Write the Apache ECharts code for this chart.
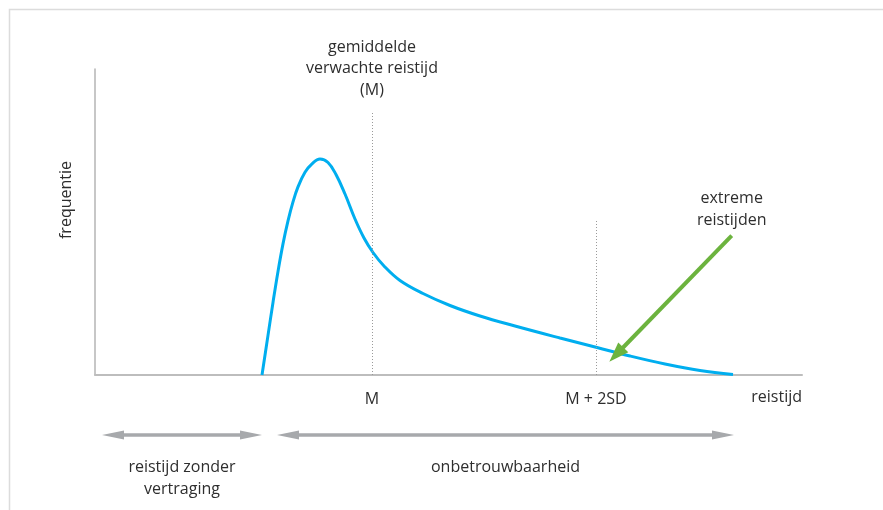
<!DOCTYPE html>
<html><head><meta charset="utf-8">
<script src="https://cdn.jsdelivr.net/npm/echarts@6/dist/echarts.min.js"></script>
<style>html,body{margin:0;padding:0;background:#fff}#c{width:883px;height:510px}</style>
</head><body><div id="c"></div>
<script>
// Curve: reistijd (x) vs frequentie (y), arbitrary units
const curveX = [167,173,178,183,188,193,198,203,210,217,225,233,241,250,260,269,278,289,305,328,355,385,420,465,502,535,570,605,638];
const curveY = [0,39.6,72.6,103.6,131.1,154.1,173.1,188.1,202.8,211.2,216,212.5,200.5,181,156,137,122.5,109,94.5,81.5,69.5,59,49,37,27.5,19,11,4.5,0.5];
// Reference markers
const markX = [277, 501];           // M, M + 2SD
const markTop = [262, 155];
const tickLabels = ['M', 'M + 2SD'];
const mTitle = 'gemiddelde\nverwachte reistijd\n(M)';
// Range arrows below the axis
const rangeStart = [18, 193];
const rangeEnd = [156, 628];
const rangeLabels = ['reistijd zonder\nvertraging', 'onbetrouwbaarheid'];
// Green callout arrow
const calloutTail = [636.7, 139.3];
const calloutHead = [521.3, 20.5];
const calloutText = 'extreme\nreistijden';

const FONT = 'Open Sans';
const TXT = '#2e2e2e';
const FS = 16;
const chart = echarts.init(document.getElementById('c'));

const rangeSeries = rangeStart.map((s, i) => ({
  type: 'line', data: [], xAxisIndex: 1, yAxisIndex: 1, clip: false, silent: true,
  markLine: {
    silent: true, animation: false,
    symbol: ['triangle', 'triangle'], symbolSize: [9, 22],
    lineStyle: { color: '#a7a9ac', width: 3.5, type: 'solid' },
    label: { show: true, position: 'insideMiddleBottom', distance: 21, formatter: rangeLabels[i],
      color: TXT, fontFamily: FONT, fontSize: FS, lineHeight: 22, align: 'center' },
    data: [[{ coord: [s, 0] }, { coord: [rangeEnd[i], 0] }]]
  }
}));

const markSeries = markX.map((x, i) => ({
  type: 'line', data: [], clip: false, silent: true,
  markLine: {
    silent: true, animation: false, symbol: ['none', 'none'],
    lineStyle: { color: '#9a9a9a', width: 1, type: [1, 2] },
    label: { show: i === 0, position: 'end', distance: 12, formatter: mTitle,
      color: TXT, fontFamily: FONT, fontSize: FS, lineHeight: 21.5 },
    data: [[{ coord: [x, 0] }, { coord: [x, markTop[i]] }]]
  }
}));

chart.setOption({
  animation: false,
  textStyle: { fontFamily: FONT },
  grid: [
    { left: 95, top: 69, right: 81, bottom: 135 },
    { left: 95, top: 425, right: 81, height: 20 }
  ],
  xAxis: [{
    type: 'value', min: 0, max: 707,
    axisLine: { show: true, lineStyle: { color: '#bdbdbd', width: 2 } },
    axisTick: { show: false }, splitLine: { show: false },
    axisLabel: { customValues: markX, margin: 16, color: TXT, fontSize: FS, fontFamily: FONT,
      formatter: v => tickLabels[markX.indexOf(v)] },
    name: 'reistijd', nameLocation: 'end', nameGap: 0,
    nameTextStyle: { color: TXT, fontSize: FS, fontFamily: FONT, align: 'right', verticalAlign: 'top', padding: [14, 0, 0, 0] }
  }, {
    gridIndex: 1, type: 'value', min: 0, max: 707, show: false
  }],
  yAxis: [{
    type: 'value', min: 0, max: 306,
    axisLine: { show: true, lineStyle: { color: '#b5b5b5', width: 1.5 } },
    axisTick: { show: false }, splitLine: { show: false }, axisLabel: { show: false }
  }, {
    gridIndex: 1, type: 'value', min: -1, max: 1, show: false
  }],
  graphic: [
    { type: 'rect', left: 7, top: 7, shape: { width: 1000, height: 1000 }, style: { fill: 'none', stroke: '#dcdcdc', lineWidth: 1.5 }, silent: true },
    { type: 'text', x: 66, y: 200, rotation: Math.PI / 2,
      style: { text: 'frequentie', fill: TXT, font: FS + 'px "Open Sans"', align: 'center', verticalAlign: 'middle' } }
  ],
  series: [
    ...markSeries,
    {
      type: 'line', smooth: 0.4, showSymbol: false, silent: true,
      lineStyle: { color: '#00aeef', width: 3 },
      data: curveX.map((x, i) => [x, curveY[i]])
    },
    ...rangeSeries,
    {
      type: 'line', data: [], clip: false, silent: true,
      markLine: {
        silent: true, animation: false,
        symbol: ['none', 'triangle'], symbolSize: [14, 20],
        lineStyle: { color: '#6cb33e', width: 4, type: 'solid' },
        label: { show: false },
        data: [[{ coord: calloutTail }, { coord: calloutHead }]]
      }
    },
    {
      type: 'scatter', symbolSize: 0, silent: true, itemStyle: { opacity: 1 },
      data: [calloutTail],
      label: { show: true, position: 'top', distance: 4, formatter: calloutText,
        color: TXT, fontFamily: FONT, fontSize: FS, lineHeight: 22, align: 'center' }
    }
  ]
});
</script></body></html>
